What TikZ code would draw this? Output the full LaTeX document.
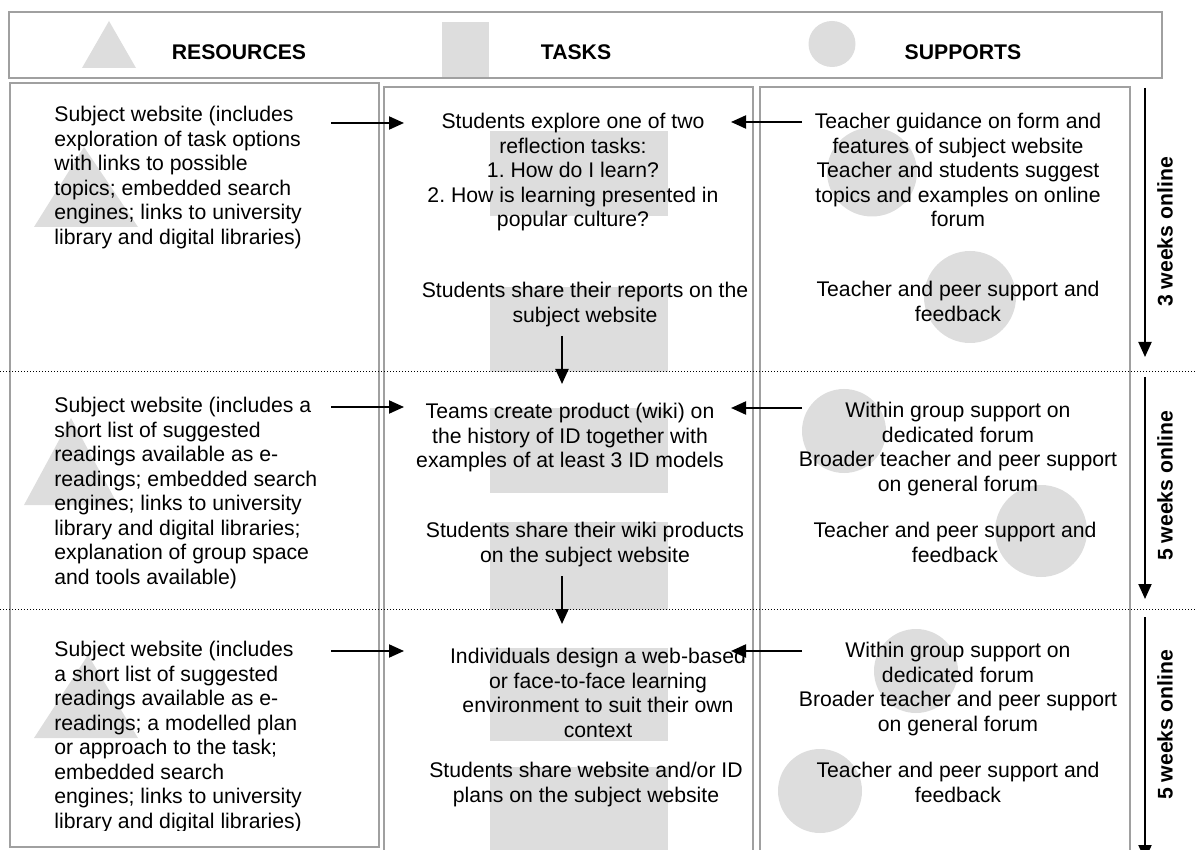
\documentclass[tikz,border=0pt]{standalone}
\usepackage{fontspec}
\setmainfont{Liberation Sans}
\usetikzlibrary{arrows.meta, calc}
\definecolor{iconfill}{HTML}{DDDDDD}
\definecolor{panelgray}{HTML}{A0A0A0}
\frenchspacing
\tikzset{
	flow/.style={-{Triangle[length=7.5pt, width=6.5pt]}, line width=1pt},
	txt/.style={font=\fontsize{10.6}{12.25}\selectfont, inner sep=0pt, align=center, anchor=north},
	lefttxt/.style={txt, align=left, anchor=north west},
	head/.style={font=\fontsize{10.6}{12.25}\selectfont\bfseries, inner sep=0pt},
	weeks/.style={head, rotate=90},
	panel/.style={draw=panelgray, line width=0.7pt},
	rowline/.style={line width=0.5pt, dash pattern=on 0.5pt off 1pt},
}

\begin{document}
\begin{tikzpicture}[x=0.5pt, y=-0.5pt]
	\useasboundingbox (0,0) rectangle (1195,850);
	\clip (0,0) rectangle (1195,850);

	% arrow ends
	\coordinate (R1) at (331,123);
	\coordinate (R2) at (331,407);
	\coordinate (R3) at (331,651);
	\coordinate (TL1) at (404,123);
	\coordinate (TL2) at (404,407);
	\coordinate (TL3) at (404,651);
	\coordinate (S1) at (802,122);
	\coordinate (S2) at (802,408);
	\coordinate (S3) at (802,651);
	\coordinate (TR1) at (731,122);
	\coordinate (TR2) at (731,408);
	\coordinate (TR3) at (731,651);
	\coordinate (D1) at (562,336);
	\coordinate (E1) at (562,384);
	\coordinate (D2) at (562,576);
	\coordinate (E2) at (562,624);
	\coordinate (W1) at (1145,88);
	\coordinate (X1) at (1145,357);
	\coordinate (W2) at (1145,377);
	\coordinate (X2) at (1145,599);
	\coordinate (W3) at (1145,617);
	\coordinate (X3) at (1145,860);

	% header
	\draw[panel] (9,12) rectangle (1162,78);
	\fill[iconfill] (82,68) -- (109,21) -- (136,68) -- cycle;
	\fill[iconfill] (442,22) rectangle (489,77);
	\fill[iconfill] (832,44) ellipse [x radius=23.5, y radius=23];
	\node[head] (res) at (239,52) {RESOURCES};
	\node[head] (tsk) at (576,52) {TASKS};
	\node[head] (sup) at (963,52) {SUPPORTS};

	% grey shapes behind the text
	\fill[iconfill] (34,227) -- (84,147) -- (138,227) -- cycle;
	\fill[iconfill] (24,505) -- (71,418) -- (118,505) -- cycle;
	\fill[iconfill] (34,738) -- (88,655) -- (138,738) -- cycle;
	\fill[iconfill] (490,131) rectangle (668,216);
	\fill[iconfill] (490,287) rectangle (668,372);
	\fill[iconfill] (490,408) rectangle (668,493);
	\fill[iconfill] (490,522) rectangle (668,610);
	\fill[iconfill] (490,648) rectangle (668,741);
	\fill[iconfill] (490,767) rectangle (668,860);
	\fill[iconfill] (872,172) ellipse [x radius=45, y radius=44.5];
	\fill[iconfill] (970,297) ellipse [x radius=46, y radius=46];
	\fill[iconfill] (844,431) ellipse [x radius=42, y radius=42];
	\fill[iconfill] (1041,531) ellipse [x radius=46, y radius=46];
	\fill[iconfill] (916,671) ellipse [x radius=42, y radius=42];
	\fill[iconfill] (820,791) ellipse [x radius=42, y radius=42];

	% columns and rows
	\draw[panel] (10,83) rectangle (379,847);
	\draw[panel] (384,87) rectangle (753,870);
	\draw[panel] (760,87) rectangle (1130,870);
	\draw[rowline] (0,372) -- (1195,372);
	\draw[rowline] (0,609) -- (1195,609);

	% resources
	\node[lefttxt] (res1) at (54,106) {Subject website (includes\\exploration of task options\\with links to possible\\topics; embedded search\\engines; links to university\\library and digital libraries)};
	\node[lefttxt] (res2) at (54,397) {Subject website (includes a\\short list of suggested\\readings available as e-\\readings; embedded search\\engines; links to university\\library and digital libraries;\\explanation of group space\\and tools available)};
	\begin{scope}
		\clip (0,0) rectangle (1195,830);
		\node[lefttxt] (res3) at (54,641) {Subject website (includes\\a short list of suggested\\readings available as e-\\readings; a modelled plan\\or approach to the task;\\embedded search\\engines; links to university\\library and digital libraries)};
	\end{scope}

	% tasks
	\node[txt] (task1a) at (573,113) {Students explore one of two\\reflection tasks:\\1. How do I learn?\\2. How is learning presented in\\popular culture?};
	\node[txt] (task1b) at (585,282) {Students share their reports on the\\subject website};
	\node[txt] (task2a) at (570,403) {Teams create product (wiki) on\\the history of ID together with\\examples of at least 3 ID models};
	\node[txt] (task2b) at (585,522) {Students share their wiki products\\on the subject website};
	\node[txt] (task3a) at (598,648) {Individuals design a web-based\\or face-to-face learning\\environment to suit their own\\context};
	\node[txt] (task3b) at (586,762) {Students share website and/or ID\\plans on the subject website};

	% supports
	\node[txt] (sup1a) at (958,113) {Teacher guidance on form and\\features of subject website\\Teacher and students suggest\\topics and examples on online\\forum};
	\node[txt] (sup1b) at (958,281) {Teacher and peer support and\\feedback};
	\node[txt] (sup2a) at (958,402) {Within group support on\\dedicated forum\\Broader teacher and peer support\\on general forum};
	\node[txt] (sup2b) at (955,522) {Teacher and peer support and\\feedback};
	\node[txt] (sup3a) at (958,642) {Within group support on\\dedicated forum\\Broader teacher and peer support\\on general forum};
	\node[txt] (sup3b) at (958,762) {Teacher and peer support and\\feedback};

	% weeks
	\node[weeks] (wk1) at (1165,232) {3 weeks online};
	\node[weeks] (wk2) at (1165,486) {5 weeks online};
	\node[weeks] (wk3) at (1165,725) {5 weeks online};

	% arrows
	\draw[flow] (R1) -- (TL1);
	\draw[flow] (R2) -- (TL2);
	\draw[flow] (R3) -- (TL3);
	\draw[flow] (S1) -- (TR1);
	\draw[flow] (S2) -- (TR2);
	\draw[flow] (S3) -- (TR3);
	\draw[flow] (D1) -- (E1);
	\draw[flow] (D2) -- (E2);
	\draw[flow] (W1) -- (X1);
	\draw[flow] (W2) -- (X2);
	\draw[flow] (W3) -- (X3);

\end{tikzpicture}
\end{document}
